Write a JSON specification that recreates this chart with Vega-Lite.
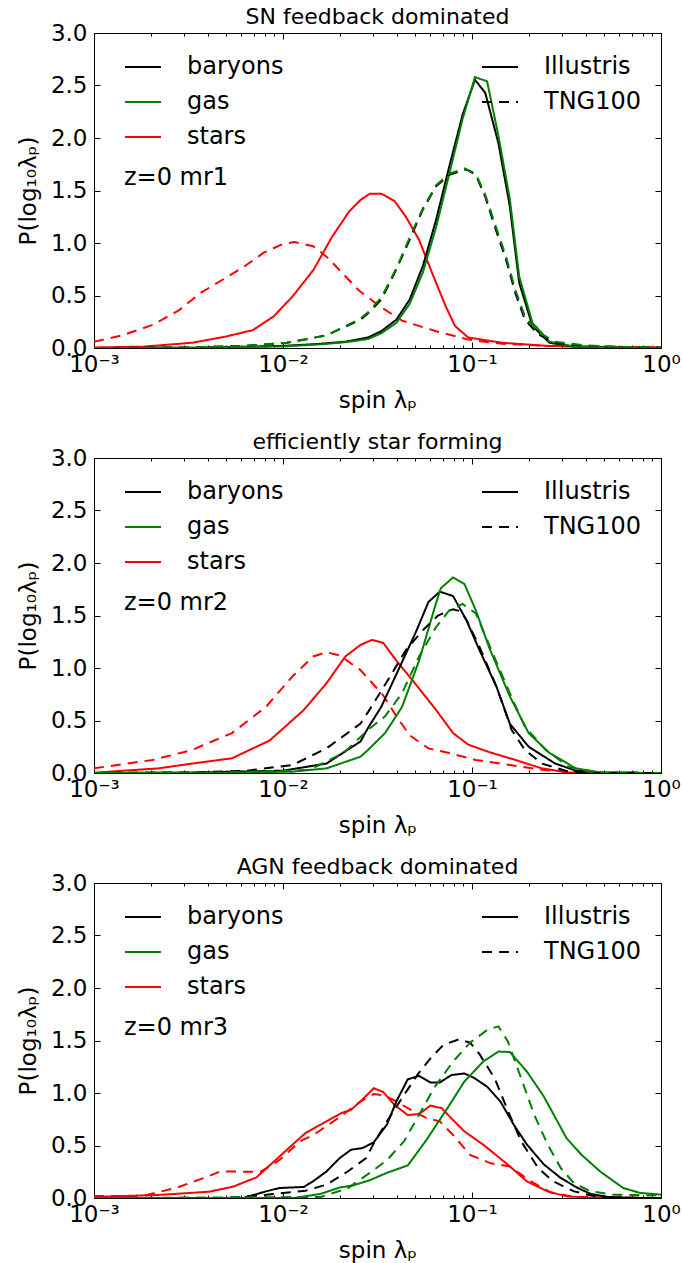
{
"$schema": "https://vega.github.io/schema/vega-lite/v6.json",
"background": "white",
"padding": {"left": 16, "top": 5, "right": 0, "bottom": 0},
"spacing": 17,
"config": {
  "font": "DejaVu Sans",
  "view": {"stroke": "black", "strokeWidth": 1},
  "axis": {"grid": false, "domainColor": "black", "tickColor": "black", "tickWidth": 1, "labelColor": "black", "titleColor": "black", "labelFont": "DejaVu Sans", "labelFontSize": 23, "titleFont": "DejaVu Sans", "titleFontSize": 23, "titleFontWeight": "normal"},
  "legend": {"labelFont": "DejaVu Sans", "labelFontSize": 24, "labelColor": "black", "symbolType": "stroke", "symbolSize": 1296, "symbolStrokeWidth": 2, "labelOffset": 25, "rowPadding": 4, "padding": 0},
  "title": {"font": "DejaVu Sans", "fontSize": 22, "fontWeight": "normal", "color": "black", "offset": -7, "anchor": "middle"}
},
"resolve": {"scale": {"color": "independent", "strokeDash": "independent"}, "legend": {"color": "independent", "strokeDash": "independent"}},
"datasets": {
"mr1": [
{"comp":"stars","sim":"Illustris","spin":0.001,"P":0.005},{"comp":"stars","sim":"Illustris","spin":0.00182,"P":0.013},{"comp":"stars","sim":"Illustris","spin":0.00331,"P":0.05},{"comp":"stars","sim":"Illustris","spin":0.00501,"P":0.11},{"comp":"stars","sim":"Illustris","spin":0.00692,"P":0.17},{"comp":"stars","sim":"Illustris","spin":0.00891,"P":0.30},{"comp":"stars","sim":"Illustris","spin":0.01122,"P":0.49},{"comp":"stars","sim":"Illustris","spin":0.01445,"P":0.74},{"comp":"stars","sim":"Illustris","spin":0.0182,"P":1.06},{"comp":"stars","sim":"Illustris","spin":0.02239,"P":1.30},{"comp":"stars","sim":"Illustris","spin":0.0257,"P":1.41},{"comp":"stars","sim":"Illustris","spin":0.02884,"P":1.47},{"comp":"stars","sim":"Illustris","spin":0.03311,"P":1.47},{"comp":"stars","sim":"Illustris","spin":0.0389,"P":1.40},{"comp":"stars","sim":"Illustris","spin":0.04467,"P":1.25},{"comp":"stars","sim":"Illustris","spin":0.05248,"P":1.03},{"comp":"stars","sim":"Illustris","spin":0.06166,"P":0.71},{"comp":"stars","sim":"Illustris","spin":0.07244,"P":0.40},{"comp":"stars","sim":"Illustris","spin":0.08128,"P":0.21},{"comp":"stars","sim":"Illustris","spin":0.0955,"P":0.10},{"comp":"stars","sim":"Illustris","spin":0.1445,"P":0.05},{"comp":"stars","sim":"Illustris","spin":0.2512,"P":0.02},{"comp":"stars","sim":"Illustris","spin":0.5012,"P":0.01},{"comp":"stars","sim":"Illustris","spin":1,"P":0.005},
{"comp":"stars","sim":"TNG100","spin":0.001,"P":0.06},{"comp":"stars","sim":"TNG100","spin":0.001413,"P":0.12},{"comp":"stars","sim":"TNG100","spin":0.002042,"P":0.22},{"comp":"stars","sim":"TNG100","spin":0.002818,"P":0.36},{"comp":"stars","sim":"TNG100","spin":0.003631,"P":0.52},{"comp":"stars","sim":"TNG100","spin":0.004786,"P":0.65},{"comp":"stars","sim":"TNG100","spin":0.006166,"P":0.77},{"comp":"stars","sim":"TNG100","spin":0.007943,"P":0.91},{"comp":"stars","sim":"TNG100","spin":0.01,"P":0.99},{"comp":"stars","sim":"TNG100","spin":0.01148,"P":1.01},{"comp":"stars","sim":"TNG100","spin":0.01445,"P":0.97},{"comp":"stars","sim":"TNG100","spin":0.01698,"P":0.87},{"comp":"stars","sim":"TNG100","spin":0.01995,"P":0.74},{"comp":"stars","sim":"TNG100","spin":0.02512,"P":0.55},{"comp":"stars","sim":"TNG100","spin":0.03236,"P":0.40},{"comp":"stars","sim":"TNG100","spin":0.04266,"P":0.26},{"comp":"stars","sim":"TNG100","spin":0.06457,"P":0.16},{"comp":"stars","sim":"TNG100","spin":0.0955,"P":0.08},{"comp":"stars","sim":"TNG100","spin":0.1445,"P":0.04},{"comp":"stars","sim":"TNG100","spin":0.2512,"P":0.02},{"comp":"stars","sim":"TNG100","spin":0.5012,"P":0.01},{"comp":"stars","sim":"TNG100","spin":1,"P":0.005},
{"comp":"baryons","sim":"Illustris","spin":0.001,"P":0},{"comp":"baryons","sim":"Illustris","spin":0.003162,"P":0.002},{"comp":"baryons","sim":"Illustris","spin":0.01,"P":0.02},{"comp":"baryons","sim":"Illustris","spin":0.01585,"P":0.04},{"comp":"baryons","sim":"Illustris","spin":0.02138,"P":0.06},{"comp":"baryons","sim":"Illustris","spin":0.02818,"P":0.10},{"comp":"baryons","sim":"Illustris","spin":0.03311,"P":0.16},{"comp":"baryons","sim":"Illustris","spin":0.03981,"P":0.27},{"comp":"baryons","sim":"Illustris","spin":0.04677,"P":0.46},{"comp":"baryons","sim":"Illustris","spin":0.05495,"P":0.78},{"comp":"baryons","sim":"Illustris","spin":0.06457,"P":1.22},{"comp":"baryons","sim":"Illustris","spin":0.07586,"P":1.73},{"comp":"baryons","sim":"Illustris","spin":0.08913,"P":2.22},{"comp":"baryons","sim":"Illustris","spin":0.1037,"P":2.555},{"comp":"baryons","sim":"Illustris","spin":0.1175,"P":2.43},{"comp":"baryons","sim":"Illustris","spin":0.138,"P":1.95},{"comp":"baryons","sim":"Illustris","spin":0.1585,"P":1.35},{"comp":"baryons","sim":"Illustris","spin":0.1778,"P":0.62},{"comp":"baryons","sim":"Illustris","spin":0.2089,"P":0.21},{"comp":"baryons","sim":"Illustris","spin":0.257,"P":0.05},{"comp":"baryons","sim":"Illustris","spin":0.3548,"P":0.01},{"comp":"baryons","sim":"Illustris","spin":1,"P":0},
{"comp":"gas","sim":"Illustris","spin":0.001,"P":0},{"comp":"gas","sim":"Illustris","spin":0.003162,"P":0.002},{"comp":"gas","sim":"Illustris","spin":0.01,"P":0.015},{"comp":"gas","sim":"Illustris","spin":0.01585,"P":0.035},{"comp":"gas","sim":"Illustris","spin":0.02138,"P":0.055},{"comp":"gas","sim":"Illustris","spin":0.02818,"P":0.085},{"comp":"gas","sim":"Illustris","spin":0.03311,"P":0.14},{"comp":"gas","sim":"Illustris","spin":0.03981,"P":0.24},{"comp":"gas","sim":"Illustris","spin":0.04677,"P":0.42},{"comp":"gas","sim":"Illustris","spin":0.05495,"P":0.72},{"comp":"gas","sim":"Illustris","spin":0.06457,"P":1.15},{"comp":"gas","sim":"Illustris","spin":0.07586,"P":1.66},{"comp":"gas","sim":"Illustris","spin":0.08913,"P":2.18},{"comp":"gas","sim":"Illustris","spin":0.1037,"P":2.58},{"comp":"gas","sim":"Illustris","spin":0.1202,"P":2.54},{"comp":"gas","sim":"Illustris","spin":0.138,"P":2.02},{"comp":"gas","sim":"Illustris","spin":0.1585,"P":1.42},{"comp":"gas","sim":"Illustris","spin":0.1778,"P":0.68},{"comp":"gas","sim":"Illustris","spin":0.2089,"P":0.24},{"comp":"gas","sim":"Illustris","spin":0.257,"P":0.06},{"comp":"gas","sim":"Illustris","spin":0.3548,"P":0.01},{"comp":"gas","sim":"Illustris","spin":1,"P":0},
{"comp":"baryons","sim":"TNG100","spin":0.001,"P":0},{"comp":"baryons","sim":"TNG100","spin":0.003162,"P":0.005},{"comp":"baryons","sim":"TNG100","spin":0.00631,"P":0.02},{"comp":"baryons","sim":"TNG100","spin":0.01047,"P":0.05},{"comp":"baryons","sim":"TNG100","spin":0.01698,"P":0.12},{"comp":"baryons","sim":"TNG100","spin":0.0257,"P":0.27},{"comp":"baryons","sim":"TNG100","spin":0.02818,"P":0.33},{"comp":"baryons","sim":"TNG100","spin":0.03311,"P":0.46},{"comp":"baryons","sim":"TNG100","spin":0.03981,"P":0.75},{"comp":"baryons","sim":"TNG100","spin":0.04677,"P":1.03},{"comp":"baryons","sim":"TNG100","spin":0.05495,"P":1.32},{"comp":"baryons","sim":"TNG100","spin":0.06457,"P":1.54},{"comp":"baryons","sim":"TNG100","spin":0.07586,"P":1.65},{"comp":"baryons","sim":"TNG100","spin":0.09333,"P":1.70},{"comp":"baryons","sim":"TNG100","spin":0.1047,"P":1.65},{"comp":"baryons","sim":"TNG100","spin":0.1175,"P":1.44},{"comp":"baryons","sim":"TNG100","spin":0.1318,"P":1.16},{"comp":"baryons","sim":"TNG100","spin":0.1514,"P":0.84},{"comp":"baryons","sim":"TNG100","spin":0.1698,"P":0.52},{"comp":"baryons","sim":"TNG100","spin":0.1905,"P":0.27},{"comp":"baryons","sim":"TNG100","spin":0.2239,"P":0.13},{"comp":"baryons","sim":"TNG100","spin":0.2754,"P":0.05},{"comp":"baryons","sim":"TNG100","spin":0.3981,"P":0.02},{"comp":"baryons","sim":"TNG100","spin":0.631,"P":0.01},{"comp":"baryons","sim":"TNG100","spin":1,"P":0.005},
{"comp":"gas","sim":"TNG100","spin":0.001,"P":0},{"comp":"gas","sim":"TNG100","spin":0.003162,"P":0.005},{"comp":"gas","sim":"TNG100","spin":0.00631,"P":0.02},{"comp":"gas","sim":"TNG100","spin":0.01047,"P":0.05},{"comp":"gas","sim":"TNG100","spin":0.01698,"P":0.12},{"comp":"gas","sim":"TNG100","spin":0.0257,"P":0.28},{"comp":"gas","sim":"TNG100","spin":0.02818,"P":0.34},{"comp":"gas","sim":"TNG100","spin":0.03311,"P":0.48},{"comp":"gas","sim":"TNG100","spin":0.03981,"P":0.76},{"comp":"gas","sim":"TNG100","spin":0.04677,"P":1.05},{"comp":"gas","sim":"TNG100","spin":0.05495,"P":1.33},{"comp":"gas","sim":"TNG100","spin":0.06457,"P":1.55},{"comp":"gas","sim":"TNG100","spin":0.07586,"P":1.66},{"comp":"gas","sim":"TNG100","spin":0.0912,"P":1.71},{"comp":"gas","sim":"TNG100","spin":0.1047,"P":1.66},{"comp":"gas","sim":"TNG100","spin":0.1175,"P":1.46},{"comp":"gas","sim":"TNG100","spin":0.1318,"P":1.19},{"comp":"gas","sim":"TNG100","spin":0.1514,"P":0.87},{"comp":"gas","sim":"TNG100","spin":0.1698,"P":0.55},{"comp":"gas","sim":"TNG100","spin":0.1905,"P":0.30},{"comp":"gas","sim":"TNG100","spin":0.2239,"P":0.15},{"comp":"gas","sim":"TNG100","spin":0.2754,"P":0.06},{"comp":"gas","sim":"TNG100","spin":0.3981,"P":0.025},{"comp":"gas","sim":"TNG100","spin":0.631,"P":0.01},{"comp":"gas","sim":"TNG100","spin":1,"P":0.005}
],
"mr2": [
{"comp":"stars","sim":"Illustris","spin":0.001,"P":0.003},{"comp":"stars","sim":"Illustris","spin":0.002188,"P":0.044},{"comp":"stars","sim":"Illustris","spin":0.003311,"P":0.09},{"comp":"stars","sim":"Illustris","spin":0.00537,"P":0.14},{"comp":"stars","sim":"Illustris","spin":0.008511,"P":0.31},{"comp":"stars","sim":"Illustris","spin":0.01288,"P":0.60},{"comp":"stars","sim":"Illustris","spin":0.01698,"P":0.855},{"comp":"stars","sim":"Illustris","spin":0.02138,"P":1.11},{"comp":"stars","sim":"Illustris","spin":0.0257,"P":1.22},{"comp":"stars","sim":"Illustris","spin":0.02951,"P":1.267},{"comp":"stars","sim":"Illustris","spin":0.03388,"P":1.24},{"comp":"stars","sim":"Illustris","spin":0.03981,"P":1.07},{"comp":"stars","sim":"Illustris","spin":0.05012,"P":0.85},{"comp":"stars","sim":"Illustris","spin":0.06457,"P":0.60},{"comp":"stars","sim":"Illustris","spin":0.07943,"P":0.38},{"comp":"stars","sim":"Illustris","spin":0.0955,"P":0.27},{"comp":"stars","sim":"Illustris","spin":0.123,"P":0.20},{"comp":"stars","sim":"Illustris","spin":0.1698,"P":0.124},{"comp":"stars","sim":"Illustris","spin":0.2344,"P":0.044},{"comp":"stars","sim":"Illustris","spin":0.3236,"P":0.005},{"comp":"stars","sim":"Illustris","spin":1,"P":0},
{"comp":"stars","sim":"TNG100","spin":0.001,"P":0.045},{"comp":"stars","sim":"TNG100","spin":0.002042,"P":0.124},{"comp":"stars","sim":"TNG100","spin":0.003311,"P":0.22},{"comp":"stars","sim":"TNG100","spin":0.00537,"P":0.38},{"comp":"stars","sim":"TNG100","spin":0.008128,"P":0.63},{"comp":"stars","sim":"TNG100","spin":0.01122,"P":0.92},{"comp":"stars","sim":"TNG100","spin":0.01445,"P":1.11},{"comp":"stars","sim":"TNG100","spin":0.01698,"P":1.15},{"comp":"stars","sim":"TNG100","spin":0.01995,"P":1.12},{"comp":"stars","sim":"TNG100","spin":0.0257,"P":0.98},{"comp":"stars","sim":"TNG100","spin":0.03388,"P":0.74},{"comp":"stars","sim":"TNG100","spin":0.03981,"P":0.54},{"comp":"stars","sim":"TNG100","spin":0.04677,"P":0.36},{"comp":"stars","sim":"TNG100","spin":0.05888,"P":0.234},{"comp":"stars","sim":"TNG100","spin":0.07586,"P":0.19},{"comp":"stars","sim":"TNG100","spin":0.1047,"P":0.124},{"comp":"stars","sim":"TNG100","spin":0.1585,"P":0.076},{"comp":"stars","sim":"TNG100","spin":0.2344,"P":0.03},{"comp":"stars","sim":"TNG100","spin":0.3548,"P":0.005},{"comp":"stars","sim":"TNG100","spin":1,"P":0},
{"comp":"baryons","sim":"Illustris","spin":0.001,"P":0},{"comp":"baryons","sim":"Illustris","spin":0.003162,"P":0.003},{"comp":"baryons","sim":"Illustris","spin":0.01,"P":0.022},{"comp":"baryons","sim":"Illustris","spin":0.01698,"P":0.09},{"comp":"baryons","sim":"Illustris","spin":0.0257,"P":0.30},{"comp":"baryons","sim":"Illustris","spin":0.02818,"P":0.43},{"comp":"baryons","sim":"Illustris","spin":0.03311,"P":0.63},{"comp":"baryons","sim":"Illustris","spin":0.04074,"P":0.98},{"comp":"baryons","sim":"Illustris","spin":0.05012,"P":1.33},{"comp":"baryons","sim":"Illustris","spin":0.05888,"P":1.63},{"comp":"baryons","sim":"Illustris","spin":0.06761,"P":1.727},{"comp":"baryons","sim":"Illustris","spin":0.07943,"P":1.685},{"comp":"baryons","sim":"Illustris","spin":0.09333,"P":1.457},{"comp":"baryons","sim":"Illustris","spin":0.1096,"P":1.17},{"comp":"baryons","sim":"Illustris","spin":0.1349,"P":0.82},{"comp":"baryons","sim":"Illustris","spin":0.1585,"P":0.47},{"comp":"baryons","sim":"Illustris","spin":0.1995,"P":0.25},{"comp":"baryons","sim":"Illustris","spin":0.2754,"P":0.09},{"comp":"baryons","sim":"Illustris","spin":0.3548,"P":0.022},{"comp":"baryons","sim":"Illustris","spin":0.4898,"P":0.003},{"comp":"baryons","sim":"Illustris","spin":1,"P":0},
{"comp":"gas","sim":"Illustris","spin":0.001,"P":0},{"comp":"gas","sim":"Illustris","spin":0.005012,"P":0.003},{"comp":"gas","sim":"Illustris","spin":0.01122,"P":0.013},{"comp":"gas","sim":"Illustris","spin":0.01698,"P":0.044},{"comp":"gas","sim":"Illustris","spin":0.0257,"P":0.155},{"comp":"gas","sim":"Illustris","spin":0.02818,"P":0.22},{"comp":"gas","sim":"Illustris","spin":0.03467,"P":0.38},{"comp":"gas","sim":"Illustris","spin":0.04266,"P":0.63},{"comp":"gas","sim":"Illustris","spin":0.05248,"P":1.07},{"comp":"gas","sim":"Illustris","spin":0.06457,"P":1.62},{"comp":"gas","sim":"Illustris","spin":0.06839,"P":1.76},{"comp":"gas","sim":"Illustris","spin":0.07943,"P":1.863},{"comp":"gas","sim":"Illustris","spin":0.0912,"P":1.80},{"comp":"gas","sim":"Illustris","spin":0.1047,"P":1.55},{"comp":"gas","sim":"Illustris","spin":0.123,"P":1.20},{"comp":"gas","sim":"Illustris","spin":0.1585,"P":0.73},{"comp":"gas","sim":"Illustris","spin":0.1995,"P":0.38},{"comp":"gas","sim":"Illustris","spin":0.257,"P":0.19},{"comp":"gas","sim":"Illustris","spin":0.3548,"P":0.044},{"comp":"gas","sim":"Illustris","spin":0.4898,"P":0.003},{"comp":"gas","sim":"Illustris","spin":1,"P":0},
{"comp":"baryons","sim":"TNG100","spin":0.001,"P":0},{"comp":"baryons","sim":"TNG100","spin":0.003162,"P":0.005},{"comp":"baryons","sim":"TNG100","spin":0.00631,"P":0.02},{"comp":"baryons","sim":"TNG100","spin":0.01122,"P":0.076},{"comp":"baryons","sim":"TNG100","spin":0.01698,"P":0.235},{"comp":"baryons","sim":"TNG100","spin":0.0257,"P":0.47},{"comp":"baryons","sim":"TNG100","spin":0.02818,"P":0.58},{"comp":"baryons","sim":"TNG100","spin":0.03631,"P":0.90},{"comp":"baryons","sim":"TNG100","spin":0.04467,"P":1.17},{"comp":"baryons","sim":"TNG100","spin":0.05495,"P":1.36},{"comp":"baryons","sim":"TNG100","spin":0.06607,"P":1.50},{"comp":"baryons","sim":"TNG100","spin":0.07943,"P":1.56},{"comp":"baryons","sim":"TNG100","spin":0.0871,"P":1.54},{"comp":"baryons","sim":"TNG100","spin":0.09333,"P":1.46},{"comp":"baryons","sim":"TNG100","spin":0.1096,"P":1.20},{"comp":"baryons","sim":"TNG100","spin":0.1349,"P":0.82},{"comp":"baryons","sim":"TNG100","spin":0.1622,"P":0.41},{"comp":"baryons","sim":"TNG100","spin":0.1905,"P":0.22},{"comp":"baryons","sim":"TNG100","spin":0.2344,"P":0.09},{"comp":"baryons","sim":"TNG100","spin":0.3236,"P":0.013},{"comp":"baryons","sim":"TNG100","spin":0.4467,"P":0},{"comp":"baryons","sim":"TNG100","spin":1,"P":0},
{"comp":"gas","sim":"TNG100","spin":0.001,"P":0},{"comp":"gas","sim":"TNG100","spin":0.005012,"P":0.005},{"comp":"gas","sim":"TNG100","spin":0.0138,"P":0.03},{"comp":"gas","sim":"TNG100","spin":0.02089,"P":0.19},{"comp":"gas","sim":"TNG100","spin":0.02818,"P":0.41},{"comp":"gas","sim":"TNG100","spin":0.03467,"P":0.54},{"comp":"gas","sim":"TNG100","spin":0.04266,"P":0.76},{"comp":"gas","sim":"TNG100","spin":0.05248,"P":1.11},{"comp":"gas","sim":"TNG100","spin":0.06457,"P":1.39},{"comp":"gas","sim":"TNG100","spin":0.07586,"P":1.55},{"comp":"gas","sim":"TNG100","spin":0.08913,"P":1.61},{"comp":"gas","sim":"TNG100","spin":0.1047,"P":1.52},{"comp":"gas","sim":"TNG100","spin":0.1288,"P":1.14},{"comp":"gas","sim":"TNG100","spin":0.1585,"P":0.76},{"comp":"gas","sim":"TNG100","spin":0.1905,"P":0.44},{"comp":"gas","sim":"TNG100","spin":0.2455,"P":0.22},{"comp":"gas","sim":"TNG100","spin":0.3236,"P":0.06},{"comp":"gas","sim":"TNG100","spin":0.4467,"P":0.003},{"comp":"gas","sim":"TNG100","spin":1,"P":0}
],
"mr3": [
{"comp":"stars","sim":"Illustris","spin":0.001,"P":0.01},{"comp":"stars","sim":"Illustris","spin":0.002239,"P":0.03},{"comp":"stars","sim":"Illustris","spin":0.004074,"P":0.06},{"comp":"stars","sim":"Illustris","spin":0.005495,"P":0.11},{"comp":"stars","sim":"Illustris","spin":0.007244,"P":0.197},{"comp":"stars","sim":"Illustris","spin":0.00912,"P":0.36},{"comp":"stars","sim":"Illustris","spin":0.01175,"P":0.54},{"comp":"stars","sim":"Illustris","spin":0.01318,"P":0.62},{"comp":"stars","sim":"Illustris","spin":0.01585,"P":0.70},{"comp":"stars","sim":"Illustris","spin":0.02042,"P":0.81},{"comp":"stars","sim":"Illustris","spin":0.02291,"P":0.84},{"comp":"stars","sim":"Illustris","spin":0.0257,"P":0.92},{"comp":"stars","sim":"Illustris","spin":0.0302,"P":1.045},{"comp":"stars","sim":"Illustris","spin":0.03388,"P":1.01},{"comp":"stars","sim":"Illustris","spin":0.0389,"P":0.886},{"comp":"stars","sim":"Illustris","spin":0.04571,"P":0.79},{"comp":"stars","sim":"Illustris","spin":0.05248,"P":0.80},{"comp":"stars","sim":"Illustris","spin":0.06026,"P":0.88},{"comp":"stars","sim":"Illustris","spin":0.06918,"P":0.855},{"comp":"stars","sim":"Illustris","spin":0.07762,"P":0.76},{"comp":"stars","sim":"Illustris","spin":0.0912,"P":0.634},{"comp":"stars","sim":"Illustris","spin":0.1148,"P":0.507},{"comp":"stars","sim":"Illustris","spin":0.1549,"P":0.317},{"comp":"stars","sim":"Illustris","spin":0.195,"P":0.158},{"comp":"stars","sim":"Illustris","spin":0.2512,"P":0.063},{"comp":"stars","sim":"Illustris","spin":0.3162,"P":0.016},{"comp":"stars","sim":"Illustris","spin":0.4467,"P":0},{"comp":"stars","sim":"Illustris","spin":1,"P":0},
{"comp":"stars","sim":"TNG100","spin":0.001,"P":0.02},{"comp":"stars","sim":"TNG100","spin":0.00182,"P":0.02},{"comp":"stars","sim":"TNG100","spin":0.002754,"P":0.10},{"comp":"stars","sim":"TNG100","spin":0.003802,"P":0.19},{"comp":"stars","sim":"TNG100","spin":0.004677,"P":0.254},{"comp":"stars","sim":"TNG100","spin":0.007586,"P":0.248},{"comp":"stars","sim":"TNG100","spin":0.00955,"P":0.36},{"comp":"stars","sim":"TNG100","spin":0.0123,"P":0.54},{"comp":"stars","sim":"TNG100","spin":0.01445,"P":0.60},{"comp":"stars","sim":"TNG100","spin":0.01995,"P":0.77},{"comp":"stars","sim":"TNG100","spin":0.0257,"P":0.92},{"comp":"stars","sim":"TNG100","spin":0.0302,"P":0.99},{"comp":"stars","sim":"TNG100","spin":0.03388,"P":0.98},{"comp":"stars","sim":"TNG100","spin":0.0389,"P":0.93},{"comp":"stars","sim":"TNG100","spin":0.04571,"P":0.855},{"comp":"stars","sim":"TNG100","spin":0.05754,"P":0.76},{"comp":"stars","sim":"TNG100","spin":0.06761,"P":0.73},{"comp":"stars","sim":"TNG100","spin":0.07943,"P":0.60},{"comp":"stars","sim":"TNG100","spin":0.09772,"P":0.41},{"comp":"stars","sim":"TNG100","spin":0.1259,"P":0.33},{"comp":"stars","sim":"TNG100","spin":0.1585,"P":0.30},{"comp":"stars","sim":"TNG100","spin":0.2042,"P":0.16},{"comp":"stars","sim":"TNG100","spin":0.263,"P":0.05},{"comp":"stars","sim":"TNG100","spin":0.3467,"P":0.01},{"comp":"stars","sim":"TNG100","spin":1,"P":0},
{"comp":"baryons","sim":"Illustris","spin":0.001,"P":0},{"comp":"baryons","sim":"Illustris","spin":0.006166,"P":0},{"comp":"baryons","sim":"Illustris","spin":0.008128,"P":0.063},{"comp":"baryons","sim":"Illustris","spin":0.00955,"P":0.095},{"comp":"baryons","sim":"Illustris","spin":0.01288,"P":0.105},{"comp":"baryons","sim":"Illustris","spin":0.01445,"P":0.16},{"comp":"baryons","sim":"Illustris","spin":0.01698,"P":0.253},{"comp":"baryons","sim":"Illustris","spin":0.01995,"P":0.38},{"comp":"baryons","sim":"Illustris","spin":0.02291,"P":0.46},{"comp":"baryons","sim":"Illustris","spin":0.0263,"P":0.475},{"comp":"baryons","sim":"Illustris","spin":0.0302,"P":0.53},{"comp":"baryons","sim":"Illustris","spin":0.03548,"P":0.70},{"comp":"baryons","sim":"Illustris","spin":0.03981,"P":0.92},{"comp":"baryons","sim":"Illustris","spin":0.04571,"P":1.13},{"comp":"baryons","sim":"Illustris","spin":0.05248,"P":1.163},{"comp":"baryons","sim":"Illustris","spin":0.06026,"P":1.10},{"comp":"baryons","sim":"Illustris","spin":0.06761,"P":1.10},{"comp":"baryons","sim":"Illustris","spin":0.07762,"P":1.17},{"comp":"baryons","sim":"Illustris","spin":0.0912,"P":1.186},{"comp":"baryons","sim":"Illustris","spin":0.1023,"P":1.145},{"comp":"baryons","sim":"Illustris","spin":0.1202,"P":1.06},{"comp":"baryons","sim":"Illustris","spin":0.1413,"P":0.92},{"comp":"baryons","sim":"Illustris","spin":0.166,"P":0.70},{"comp":"baryons","sim":"Illustris","spin":0.195,"P":0.51},{"comp":"baryons","sim":"Illustris","spin":0.2399,"P":0.32},{"comp":"baryons","sim":"Illustris","spin":0.2951,"P":0.19},{"comp":"baryons","sim":"Illustris","spin":0.3631,"P":0.095},{"comp":"baryons","sim":"Illustris","spin":0.4266,"P":0.038},{"comp":"baryons","sim":"Illustris","spin":0.5248,"P":0.01},{"comp":"baryons","sim":"Illustris","spin":0.7943,"P":0},{"comp":"baryons","sim":"Illustris","spin":1,"P":0},
{"comp":"baryons","sim":"TNG100","spin":0.001,"P":0},{"comp":"baryons","sim":"TNG100","spin":0.005012,"P":0},{"comp":"baryons","sim":"TNG100","spin":0.008128,"P":0.03},{"comp":"baryons","sim":"TNG100","spin":0.01318,"P":0.07},{"comp":"baryons","sim":"TNG100","spin":0.01698,"P":0.127},{"comp":"baryons","sim":"TNG100","spin":0.02188,"P":0.25},{"comp":"baryons","sim":"TNG100","spin":0.02754,"P":0.38},{"comp":"baryons","sim":"TNG100","spin":0.0302,"P":0.52},{"comp":"baryons","sim":"TNG100","spin":0.03548,"P":0.73},{"comp":"baryons","sim":"TNG100","spin":0.04365,"P":0.98},{"comp":"baryons","sim":"TNG100","spin":0.05129,"P":1.17},{"comp":"baryons","sim":"TNG100","spin":0.06026,"P":1.33},{"comp":"baryons","sim":"TNG100","spin":0.07079,"P":1.46},{"comp":"baryons","sim":"TNG100","spin":0.08511,"P":1.51},{"comp":"baryons","sim":"TNG100","spin":0.09772,"P":1.48},{"comp":"baryons","sim":"TNG100","spin":0.1096,"P":1.37},{"comp":"baryons","sim":"TNG100","spin":0.1318,"P":1.14},{"comp":"baryons","sim":"TNG100","spin":0.1549,"P":0.83},{"comp":"baryons","sim":"TNG100","spin":0.182,"P":0.54},{"comp":"baryons","sim":"TNG100","spin":0.2239,"P":0.285},{"comp":"baryons","sim":"TNG100","spin":0.2692,"P":0.158},{"comp":"baryons","sim":"TNG100","spin":0.3467,"P":0.063},{"comp":"baryons","sim":"TNG100","spin":0.4467,"P":0.016},{"comp":"baryons","sim":"TNG100","spin":0.5623,"P":0},{"comp":"baryons","sim":"TNG100","spin":1,"P":0},
{"comp":"gas","sim":"Illustris","spin":0.001,"P":0},{"comp":"gas","sim":"Illustris","spin":0.01148,"P":0},{"comp":"gas","sim":"Illustris","spin":0.01585,"P":0.04},{"comp":"gas","sim":"Illustris","spin":0.01995,"P":0.10},{"comp":"gas","sim":"Illustris","spin":0.02344,"P":0.12},{"comp":"gas","sim":"Illustris","spin":0.02884,"P":0.17},{"comp":"gas","sim":"Illustris","spin":0.03548,"P":0.24},{"comp":"gas","sim":"Illustris","spin":0.04571,"P":0.31},{"comp":"gas","sim":"Illustris","spin":0.05754,"P":0.555},{"comp":"gas","sim":"Illustris","spin":0.07413,"P":0.856},{"comp":"gas","sim":"Illustris","spin":0.0912,"P":1.11},{"comp":"gas","sim":"Illustris","spin":0.1148,"P":1.30},{"comp":"gas","sim":"Illustris","spin":0.138,"P":1.395},{"comp":"gas","sim":"Illustris","spin":0.1585,"P":1.39},{"comp":"gas","sim":"Illustris","spin":0.195,"P":1.205},{"comp":"gas","sim":"Illustris","spin":0.2399,"P":0.967},{"comp":"gas","sim":"Illustris","spin":0.3162,"P":0.57},{"comp":"gas","sim":"Illustris","spin":0.3802,"P":0.41},{"comp":"gas","sim":"Illustris","spin":0.4786,"P":0.25},{"comp":"gas","sim":"Illustris","spin":0.631,"P":0.095},{"comp":"gas","sim":"Illustris","spin":0.7762,"P":0.048},{"comp":"gas","sim":"Illustris","spin":1,"P":0.032},
{"comp":"gas","sim":"TNG100","spin":0.001,"P":0},{"comp":"gas","sim":"TNG100","spin":0.01585,"P":0.01},{"comp":"gas","sim":"TNG100","spin":0.02188,"P":0.09},{"comp":"gas","sim":"TNG100","spin":0.02884,"P":0.24},{"comp":"gas","sim":"TNG100","spin":0.03548,"P":0.36},{"comp":"gas","sim":"TNG100","spin":0.04365,"P":0.54},{"comp":"gas","sim":"TNG100","spin":0.05129,"P":0.76},{"comp":"gas","sim":"TNG100","spin":0.0631,"P":1.05},{"comp":"gas","sim":"TNG100","spin":0.07943,"P":1.30},{"comp":"gas","sim":"TNG100","spin":0.09772,"P":1.48},{"comp":"gas","sim":"TNG100","spin":0.1202,"P":1.60},{"comp":"gas","sim":"TNG100","spin":0.138,"P":1.635},{"comp":"gas","sim":"TNG100","spin":0.1549,"P":1.49},{"comp":"gas","sim":"TNG100","spin":0.182,"P":1.14},{"comp":"gas","sim":"TNG100","spin":0.2138,"P":0.79},{"comp":"gas","sim":"TNG100","spin":0.2512,"P":0.51},{"comp":"gas","sim":"TNG100","spin":0.2951,"P":0.285},{"comp":"gas","sim":"TNG100","spin":0.3467,"P":0.14},{"comp":"gas","sim":"TNG100","spin":0.4266,"P":0.063},{"comp":"gas","sim":"TNG100","spin":0.5623,"P":0.032},{"comp":"gas","sim":"TNG100","spin":1,"P":0.025}
]
},
"vconcat": [
{
  "title": "SN feedback dominated",
  "width": 567, "height": 315,
  "layer": [
    {
      "data": {"name": "mr1"},
      "mark": {"type": "line", "strokeWidth": 2, "clip": true},
      "encoding": {
        "x": {"field": "spin", "type": "quantitative", "scale": {"type": "log", "domain": [0.001, 1]}, "title": "spin λₚ",
              "axis": {"orient": "bottom", "values": [0.001,0.002,0.003,0.004,0.005,0.006,0.007,0.008,0.009,0.01,0.02,0.03,0.04,0.05,0.06,0.07,0.08,0.09,0.1,0.2,0.3,0.4,0.5,0.6,0.7,0.8,0.9,1], "labelExpr": "datum.value == 0.001 ? '10⁻³' : datum.value == 0.01 ? '10⁻²' : datum.value == 0.1 ? '10⁻¹' : datum.value == 1 ? '10⁰' : ''", "labelOverlap": false, "labelFlush": false, "labelPadding": 11, "titlePadding": 10, "tickSize": {"condition": {"test": "datum.value == 0.001 || datum.value == 0.01 || datum.value == 0.1 || datum.value == 1", "value": -6}, "value": -3}}},
        "y": {"field": "P", "type": "quantitative", "scale": {"domain": [0, 3]}, "title": "P(log₁₀λₚ)",
              "axis": {"orient": "left", "values": [0, 0.5, 1, 1.5, 2, 2.5, 3], "format": ".1f", "tickSize": -6, "labelPadding": 13, "titlePadding": 10}},
        "color": {"field": "comp", "type": "nominal", "scale": {"domain": ["baryons", "gas", "stars"], "range": ["#000000", "#008000", "#ff0000"]},
                  "legend": {"title": null, "orient": "none", "legendX": 30, "legendY": 15}},
        "strokeDash": {"field": "sim", "type": "nominal", "scale": {"domain": ["Illustris", "TNG100"], "range": [[1, 0], [10, 7]]},
                  "legend": {"title": null, "orient": "none", "legendX": 387, "legendY": 15, "symbolStrokeColor": "black"}}
      }
    },
    {
      "data": {"values": [{"label": "z=0 mr1"}]},
      "mark": {"type": "text", "align": "left", "baseline": "middle", "fontSize": 24, "font": "DejaVu Sans", "color": "black"},
      "encoding": {
        "x": {"datum": 0.00144, "type": "quantitative", "scale": {"type": "log", "domain": [0.001, 1]},
              "axis": {"orient": "top", "values": [0.001,0.002,0.003,0.004,0.005,0.006,0.007,0.008,0.009,0.01,0.02,0.03,0.04,0.05,0.06,0.07,0.08,0.09,0.1,0.2,0.3,0.4,0.5,0.6,0.7,0.8,0.9,1], "labels": false, "title": null, "minExtent": 0, "maxExtent": 0, "tickSize": {"condition": {"test": "datum.value == 0.001 || datum.value == 0.01 || datum.value == 0.1 || datum.value == 1", "value": -6}, "value": -3}}},
        "y": {"datum": 1.62, "type": "quantitative", "scale": {"domain": [0, 3]},
              "axis": {"orient": "right", "values": [0, 0.5, 1, 1.5, 2, 2.5, 3], "labels": false, "title": null, "minExtent": 0, "maxExtent": 0, "tickSize": -6}},
        "text": {"field": "label", "type": "nominal"}
      }
    }
  ],
  "resolve": {"axis": {"x": "independent", "y": "independent"}}
},
{
  "title": "efficiently star forming",
  "width": 567, "height": 315,
  "layer": [
    {
      "data": {"name": "mr2"},
      "mark": {"type": "line", "strokeWidth": 2, "clip": true},
      "encoding": {
        "x": {"field": "spin", "type": "quantitative", "scale": {"type": "log", "domain": [0.001, 1]}, "title": "spin λₚ",
              "axis": {"orient": "bottom", "values": [0.001,0.002,0.003,0.004,0.005,0.006,0.007,0.008,0.009,0.01,0.02,0.03,0.04,0.05,0.06,0.07,0.08,0.09,0.1,0.2,0.3,0.4,0.5,0.6,0.7,0.8,0.9,1], "labelExpr": "datum.value == 0.001 ? '10⁻³' : datum.value == 0.01 ? '10⁻²' : datum.value == 0.1 ? '10⁻¹' : datum.value == 1 ? '10⁰' : ''", "labelOverlap": false, "labelFlush": false, "labelPadding": 11, "titlePadding": 10, "tickSize": {"condition": {"test": "datum.value == 0.001 || datum.value == 0.01 || datum.value == 0.1 || datum.value == 1", "value": -6}, "value": -3}}},
        "y": {"field": "P", "type": "quantitative", "scale": {"domain": [0, 3]}, "title": "P(log₁₀λₚ)",
              "axis": {"orient": "left", "values": [0, 0.5, 1, 1.5, 2, 2.5, 3], "format": ".1f", "tickSize": -6, "labelPadding": 13, "titlePadding": 10}},
        "color": {"field": "comp", "type": "nominal", "scale": {"domain": ["baryons", "gas", "stars"], "range": ["#000000", "#008000", "#ff0000"]},
                  "legend": {"title": null, "orient": "none", "legendX": 30, "legendY": 15}},
        "strokeDash": {"field": "sim", "type": "nominal", "scale": {"domain": ["Illustris", "TNG100"], "range": [[1, 0], [10, 7]]},
                  "legend": {"title": null, "orient": "none", "legendX": 387, "legendY": 15, "symbolStrokeColor": "black"}}
      }
    },
    {
      "data": {"values": [{"label": "z=0 mr2"}]},
      "mark": {"type": "text", "align": "left", "baseline": "middle", "fontSize": 24, "font": "DejaVu Sans", "color": "black"},
      "encoding": {
        "x": {"datum": 0.00144, "type": "quantitative", "scale": {"type": "log", "domain": [0.001, 1]},
              "axis": {"orient": "top", "values": [0.001,0.002,0.003,0.004,0.005,0.006,0.007,0.008,0.009,0.01,0.02,0.03,0.04,0.05,0.06,0.07,0.08,0.09,0.1,0.2,0.3,0.4,0.5,0.6,0.7,0.8,0.9,1], "labels": false, "title": null, "minExtent": 0, "maxExtent": 0, "tickSize": {"condition": {"test": "datum.value == 0.001 || datum.value == 0.01 || datum.value == 0.1 || datum.value == 1", "value": -6}, "value": -3}}},
        "y": {"datum": 1.62, "type": "quantitative", "scale": {"domain": [0, 3]},
              "axis": {"orient": "right", "values": [0, 0.5, 1, 1.5, 2, 2.5, 3], "labels": false, "title": null, "minExtent": 0, "maxExtent": 0, "tickSize": -6}},
        "text": {"field": "label", "type": "nominal"}
      }
    }
  ],
  "resolve": {"axis": {"x": "independent", "y": "independent"}}
},
{
  "title": "AGN feedback dominated",
  "width": 567, "height": 315,
  "layer": [
    {
      "data": {"name": "mr3"},
      "mark": {"type": "line", "strokeWidth": 2, "clip": true},
      "encoding": {
        "x": {"field": "spin", "type": "quantitative", "scale": {"type": "log", "domain": [0.001, 1]}, "title": "spin λₚ",
              "axis": {"orient": "bottom", "values": [0.001,0.002,0.003,0.004,0.005,0.006,0.007,0.008,0.009,0.01,0.02,0.03,0.04,0.05,0.06,0.07,0.08,0.09,0.1,0.2,0.3,0.4,0.5,0.6,0.7,0.8,0.9,1], "labelExpr": "datum.value == 0.001 ? '10⁻³' : datum.value == 0.01 ? '10⁻²' : datum.value == 0.1 ? '10⁻¹' : datum.value == 1 ? '10⁰' : ''", "labelOverlap": false, "labelFlush": false, "labelPadding": 11, "titlePadding": 10, "tickSize": {"condition": {"test": "datum.value == 0.001 || datum.value == 0.01 || datum.value == 0.1 || datum.value == 1", "value": -6}, "value": -3}}},
        "y": {"field": "P", "type": "quantitative", "scale": {"domain": [0, 3]}, "title": "P(log₁₀λₚ)",
              "axis": {"orient": "left", "values": [0, 0.5, 1, 1.5, 2, 2.5, 3], "format": ".1f", "tickSize": -6, "labelPadding": 13, "titlePadding": 10}},
        "color": {"field": "comp", "type": "nominal", "scale": {"domain": ["baryons", "gas", "stars"], "range": ["#000000", "#008000", "#ff0000"]},
                  "legend": {"title": null, "orient": "none", "legendX": 30, "legendY": 15}},
        "strokeDash": {"field": "sim", "type": "nominal", "scale": {"domain": ["Illustris", "TNG100"], "range": [[1, 0], [10, 7]]},
                  "legend": {"title": null, "orient": "none", "legendX": 387, "legendY": 15, "symbolStrokeColor": "black"}}
      }
    },
    {
      "data": {"values": [{"label": "z=0 mr3"}]},
      "mark": {"type": "text", "align": "left", "baseline": "middle", "fontSize": 24, "font": "DejaVu Sans", "color": "black"},
      "encoding": {
        "x": {"datum": 0.00144, "type": "quantitative", "scale": {"type": "log", "domain": [0.001, 1]},
              "axis": {"orient": "top", "values": [0.001,0.002,0.003,0.004,0.005,0.006,0.007,0.008,0.009,0.01,0.02,0.03,0.04,0.05,0.06,0.07,0.08,0.09,0.1,0.2,0.3,0.4,0.5,0.6,0.7,0.8,0.9,1], "labels": false, "title": null, "minExtent": 0, "maxExtent": 0, "tickSize": {"condition": {"test": "datum.value == 0.001 || datum.value == 0.01 || datum.value == 0.1 || datum.value == 1", "value": -6}, "value": -3}}},
        "y": {"datum": 1.62, "type": "quantitative", "scale": {"domain": [0, 3]},
              "axis": {"orient": "right", "values": [0, 0.5, 1, 1.5, 2, 2.5, 3], "labels": false, "title": null, "minExtent": 0, "maxExtent": 0, "tickSize": -6}},
        "text": {"field": "label", "type": "nominal"}
      }
    }
  ],
  "resolve": {"axis": {"x": "independent", "y": "independent"}}
}
]
}
